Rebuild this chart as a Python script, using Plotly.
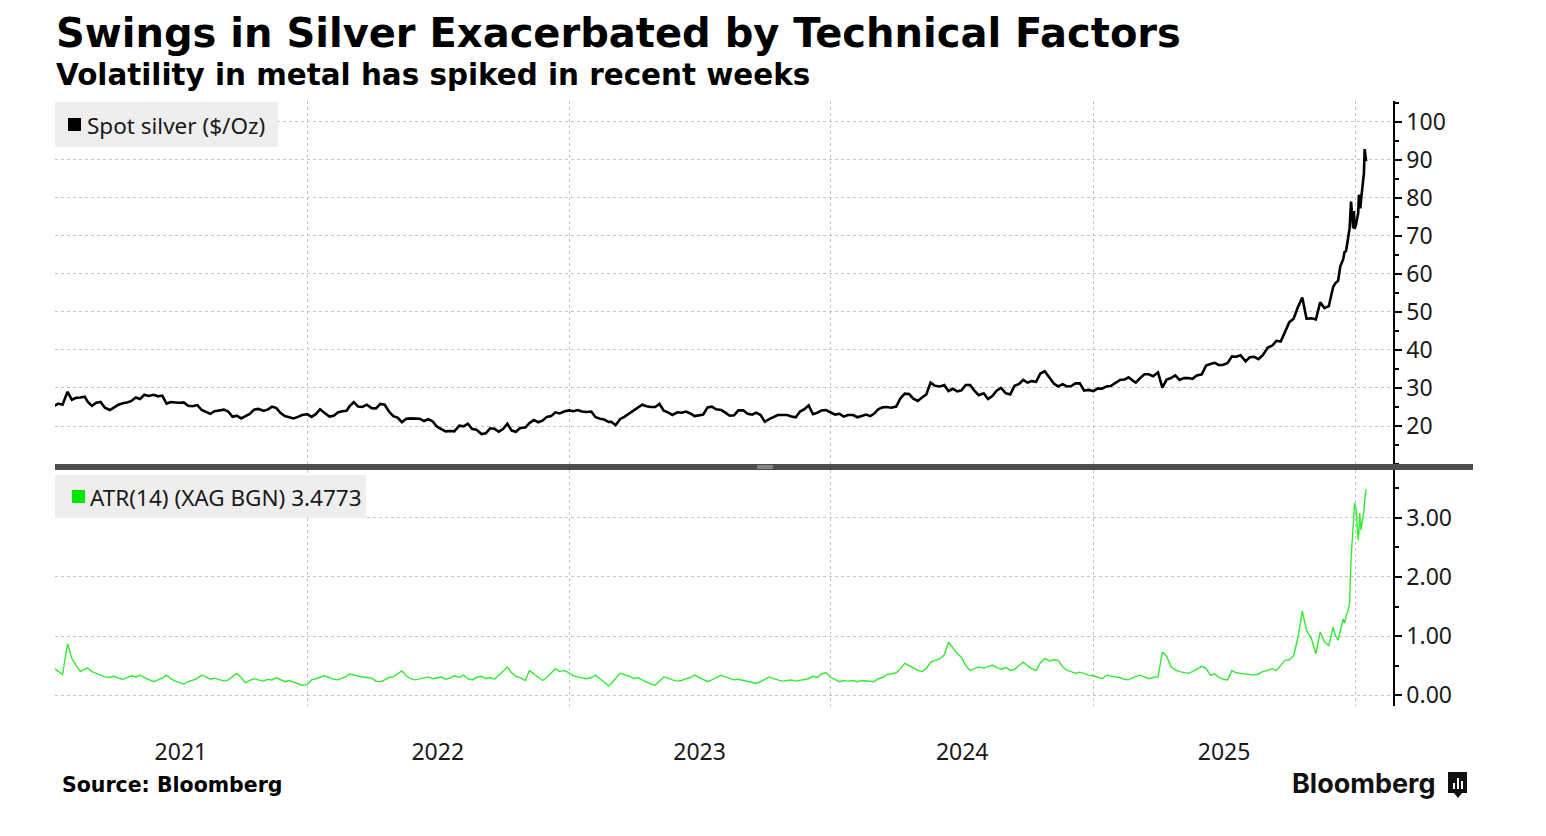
import pandas as pd
import plotly.graph_objects as go

# ---------------- data ----------------
# Sampling: days 1, 7, 13, 19, 25 of each month (Jan 2021 starts on the 13th),
# then denser sampling for Dec 2025 and Jan 2026.
MONTH_DAYS = [1, 7, 13, 19, 25]
DEC_2025_DAYS = [1, 4, 8, 11, 15, 17, 19, 22, 23, 24, 26, 29, 30, 31]
JAN_2026_DAYS = [2, 5, 6, 7, 8, 9, 12, 13, 14, 15, 16]

silver_2021 = [
    25.2, 25.9, 25.6,
    29.0, 26.9, 27.4, 27.5, 27.7,
    26.4, 25.3, 26.1, 26.3, 24.8,
    24.2, 24.9, 25.6, 26.0, 26.2,
    26.6, 27.5, 27.1, 28.2, 27.9,
    28.2, 27.8, 28.0, 25.9, 26.3,
    26.2, 26.1, 26.2, 25.3, 25.2,
    25.5, 24.2, 23.6, 23.2, 23.9,
    24.2, 24.3, 23.8, 22.4, 22.7,
    22.0, 22.6, 23.2, 24.3, 24.5,
    24.0, 24.3, 25.1, 24.7, 23.4,
    22.6, 22.3, 22.0, 22.4, 22.9,
]
silver_2022 = [
    23.1, 22.4, 23.1, 24.4, 23.5,
    22.5, 22.7, 23.6, 23.9, 24.0,
    25.2, 26.3, 25.1, 25.0, 25.6,
    24.7, 24.6, 25.8, 25.6, 23.8,
    22.6, 22.2, 21.0, 21.9, 22.0,
    22.0, 21.9, 21.3, 21.8, 21.2,
    19.8, 19.2, 18.6, 18.7, 18.6,
    20.1, 19.9, 20.6, 19.2, 19.0,
    17.9, 18.1, 19.4, 19.3, 18.5,
    19.2, 20.6, 18.8, 18.5, 19.5,
    19.6, 20.8, 21.6, 21.0, 21.4,
    22.4, 22.6, 23.6, 23.3, 23.8,
]
silver_2023 = [
    24.1, 23.9, 24.2, 23.8, 23.7,
    23.8, 22.3, 21.9, 21.7, 21.1,
    21.1, 20.2, 21.8, 22.4, 23.2,
    24.0, 25.0, 25.6, 25.2, 25.0,
    25.0, 25.8, 24.0, 23.6, 22.9,
    23.6, 23.5, 23.8, 23.3, 22.6,
    22.8, 23.0, 24.9, 25.1, 24.4,
    24.2, 23.5, 22.7, 22.8, 24.1,
    24.1, 23.2, 23.0, 23.5, 22.9,
    21.1, 21.8, 22.4, 22.9, 22.9,
    22.9, 22.5, 22.3, 23.8, 24.4,
    25.4, 23.1, 23.5, 24.1, 24.2,
]
silver_2024 = [
    23.6, 23.0, 23.2, 22.5, 22.9,
    22.9, 22.3, 22.6, 23.0, 22.6,
    23.2, 24.4, 24.9, 25.0, 24.8,
    25.1, 27.3, 28.5, 28.4, 27.2,
    26.6, 27.5, 28.3, 31.4, 30.6,
    30.4, 30.8, 29.2, 29.8, 29.1,
    29.4, 30.8, 30.8, 29.3, 28.1,
    28.6, 27.1, 27.9, 29.3, 30.0,
    28.6, 28.3, 30.6, 31.0, 32.1,
    31.4, 31.8, 31.6, 33.8, 34.4,
    32.5, 31.1, 30.4, 31.0, 30.4,
    30.5, 31.2, 31.2, 29.3, 29.5,
]
silver_2025 = [
    29.2, 29.9, 29.8, 30.4, 30.5,
    31.3, 32.1, 32.2, 32.8, 31.9,
    31.4, 32.6, 33.6, 33.6, 33.1,
    34.1, 30.1, 32.2, 32.6, 33.3,
    32.1, 32.6, 32.6, 32.4, 33.3,
    33.6, 35.9, 36.3, 36.6, 36.0,
    36.1, 36.6, 38.3, 38.2, 38.6,
    37.0, 38.1, 38.2, 37.6, 38.6,
    40.6, 41.1, 42.4, 42.2, 44.6,
    47.3, 48.2, 51.3, 53.8, 48.2,
    48.3, 48.0, 52.5, 51.0, 51.5,
]
silver_dec_2025 = [56.5, 57.5, 58.2, 62.0, 63.8, 65.8, 66.0, 69.5, 71.5, 72.0, 79.0, 72.0, 76.5, 71.8]
silver_jan_2026 = [73.0, 76.0, 80.8, 78.5, 77.2, 79.5, 85.0, 86.5, 92.8, 91.5, 89.6]

atr_2021 = [
    0.46, 0.40, 0.35,
    0.87, 0.62, 0.50, 0.40, 0.44,
    0.46, 0.40, 0.37, 0.33, 0.31,
    0.30, 0.32, 0.29, 0.27, 0.30,
    0.33, 0.31, 0.34, 0.30, 0.27,
    0.23, 0.26, 0.29, 0.34, 0.28,
    0.24, 0.22, 0.19, 0.23, 0.25,
    0.29, 0.34, 0.31, 0.27, 0.29,
    0.27, 0.24, 0.26, 0.31, 0.37,
    0.30, 0.21, 0.25, 0.28, 0.26,
    0.24, 0.27, 0.26, 0.30, 0.27,
    0.23, 0.25, 0.22, 0.19, 0.17,
]
atr_2022 = [
    0.18, 0.26, 0.28, 0.31, 0.33,
    0.30, 0.27, 0.26, 0.29, 0.32,
    0.36, 0.34, 0.33, 0.31, 0.30,
    0.29, 0.24, 0.23, 0.26, 0.30,
    0.31, 0.36, 0.41, 0.33, 0.28,
    0.26, 0.28, 0.30, 0.31, 0.28,
    0.29, 0.31, 0.27, 0.29, 0.33,
    0.30, 0.34, 0.28, 0.26, 0.30,
    0.32, 0.28, 0.30, 0.27, 0.34,
    0.40, 0.48, 0.38, 0.32, 0.30,
    0.25, 0.42, 0.36, 0.30, 0.25,
    0.30, 0.38, 0.45, 0.40, 0.42,
]
atr_2023 = [
    0.38, 0.33, 0.31, 0.30, 0.28,
    0.30, 0.34, 0.28, 0.22, 0.16,
    0.20, 0.28, 0.37, 0.35, 0.33,
    0.28, 0.30, 0.26, 0.22, 0.19,
    0.17, 0.24, 0.31, 0.29, 0.26,
    0.24, 0.25, 0.28, 0.30, 0.34,
    0.30, 0.26, 0.23, 0.26, 0.30,
    0.34, 0.31, 0.28, 0.26, 0.27,
    0.25, 0.24, 0.22, 0.20, 0.23,
    0.27, 0.31, 0.28, 0.26, 0.24,
    0.25, 0.26, 0.24, 0.25, 0.27,
    0.28, 0.32, 0.30, 0.36, 0.38,
]
atr_2024 = [
    0.30, 0.26, 0.23, 0.25, 0.24,
    0.25, 0.23, 0.25, 0.24, 0.23,
    0.23, 0.28, 0.30, 0.35, 0.37,
    0.38, 0.45, 0.54, 0.50, 0.46,
    0.42, 0.40, 0.45, 0.56, 0.59,
    0.62, 0.68, 0.90, 0.80, 0.71,
    0.64, 0.50, 0.42, 0.45, 0.48,
    0.46, 0.48, 0.51, 0.47, 0.44,
    0.47, 0.42, 0.44, 0.50, 0.56,
    0.50, 0.45, 0.42, 0.55, 0.62,
    0.58, 0.60, 0.59, 0.48, 0.42,
    0.40, 0.37, 0.39, 0.36, 0.34,
]
atr_2025 = [
    0.33, 0.30, 0.28, 0.34, 0.32,
    0.31, 0.30, 0.27, 0.26, 0.30,
    0.32, 0.34, 0.31, 0.28, 0.30,
    0.31, 0.73, 0.66, 0.48, 0.43,
    0.40, 0.39, 0.37, 0.40, 0.44,
    0.49, 0.45, 0.34, 0.36, 0.30,
    0.27, 0.26, 0.42, 0.38, 0.37,
    0.36, 0.35, 0.34, 0.36, 0.40,
    0.42, 0.45, 0.42, 0.50, 0.59,
    0.60, 0.67, 0.98, 1.42, 1.10,
    0.95, 0.70, 1.07, 0.90, 0.84,
]
atr_dec_2025 = [1.15, 1.02, 0.93, 1.10, 1.29, 1.22, 1.33, 1.43, 1.50, 1.56, 2.29, 3.00, 3.10, 3.25]
atr_jan_2026 = [3.15, 2.62, 2.75, 3.08, 2.95, 2.79, 3.05, 3.10, 3.30, 3.40, 3.4773]

year_labels = ["2021", "2022", "2023", "2024", "2025"]
year_label_dates = ["2021-07-09", "2022-07-02", "2023-07-02", "2024-07-02", "2025-07-02"]
year_grid_dates = ["2022-01-01", "2023-01-01", "2024-01-01", "2025-01-01", "2026-01-01"]
silver_ticks = [20, 30, 40, 50, 60, 70, 80, 90, 100]
atr_ticks = [0, 1, 2, 3]
atr_tick_text = ["0.00", "1.00", "2.00", "3.00"]


# ---------------- build dates ----------------
def build_dates():
    out = []
    for y in range(2021, 2026):
        for m in range(1, 13):
            if y == 2025 and m == 12:
                break
            for d in MONTH_DAYS:
                if y == 2021 and m == 1 and d < 13:
                    continue
                out.append(pd.Timestamp(y, m, d))
    out += [pd.Timestamp(2025, 12, d) for d in DEC_2025_DAYS]
    out += [pd.Timestamp(2026, 1, d) for d in JAN_2026_DAYS]
    return out


dates = build_dates()
silver = silver_2021 + silver_2022 + silver_2023 + silver_2024 + silver_2025 + silver_dec_2025 + silver_jan_2026
atr = atr_2021 + atr_2022 + atr_2023 + atr_2024 + atr_2025 + atr_dec_2025 + atr_jan_2026
n = min(len(dates), len(silver), len(atr))

# ---------------- geometry helpers ----------------
# The page body has an 8px margin, so the figure is shrunk by that offset.
OFF = 8
W, H = 1546 - OFF, 836 - OFF
L, R, T, B = 55 - OFF, 153, 101 - OFF, 130
PW = W - L - R   # 1338
PH = H - T - B   # 605


def fx(px):
    """reference-screen x pixel -> paper fraction"""
    return (px - 55) / PW


def fy(py):
    """reference-screen y pixel -> paper fraction"""
    return (706 - py) / PH


GRID = "#c4c4c4"
TICKFONT = dict(family="Noto Sans, Open Sans, sans-serif", size=23, color="#1a1a1a")

fig = go.Figure()
fig.add_trace(go.Scatter(x=dates[:n], y=silver[:n], mode="lines",
                         line=dict(color="#000000", width=2.6), xaxis="x", yaxis="y",
                         showlegend=False, hoverinfo="skip"))
fig.add_trace(go.Scatter(x=dates[:n], y=atr[:n], mode="lines",
                         line=dict(color="#33ea33", width=1.4), xaxis="x2", yaxis="y2",
                         showlegend=False, hoverinfo="skip"))

xrange = ["2021-01-14 12:00", "2026-02-22 12:00"]
minor_x = dict(tickmode="array", tickvals=year_grid_dates, showgrid=True,
               gridcolor=GRID, griddash="dot", gridwidth=1, ticks="")

yaxis_common = dict(side="right", showline=True, linecolor="#000", linewidth=1.5,
                    ticks="outside", ticklen=7, tickwidth=1.5, tickcolor="#000",
                    tickfont=TICKFONT, showgrid=True, gridcolor=GRID,
                    griddash="3px,3px", gridwidth=1, zeroline=False, fixedrange=True)

fig.update_layout(
    width=W, height=H,
    margin=dict(l=L, r=R, t=T, b=B, autoexpand=False),
    paper_bgcolor="white", plot_bgcolor="white",
    xaxis=dict(domain=[0, 1], anchor="y", range=xrange, type="date",
               showticklabels=False, showgrid=False, zeroline=False, showline=False,
               ticks="", minor=minor_x),
    xaxis2=dict(domain=[0, 1], anchor="y2", range=xrange, type="date", matches="x",
                tickmode="array", tickvals=year_label_dates, ticktext=year_labels,
                tickfont=TICKFONT, showgrid=False, zeroline=False, showline=False,
                ticks="", ticklabelstandoff=30, minor=minor_x),
    yaxis=dict(domain=[fy(465), 1], anchor="x", range=[9.75, 105.44],
               tickmode="array", tickvals=silver_ticks,
               minor=dict(tickmode="linear", tick0=0, dtick=5, ticks="outside",
                          ticklen=4, tickcolor="#000", showgrid=False),
               **yaxis_common),
    yaxis2=dict(domain=[0, fy(470)], anchor="x2", range=[-0.181, 3.806],
                tickmode="array", tickvals=atr_ticks, ticktext=atr_tick_text,
                minor=dict(tickmode="linear", tick0=0, dtick=0.5, ticks="outside",
                           ticklen=4, tickcolor="#000", showgrid=False),
                **yaxis_common),
)


def prect(x0, x1, y0, y1, color):
    fig.add_shape(type="rect", xref="paper", yref="paper", layer="above",
                  x0=fx(x0), x1=fx(x1), y0=fy(y1), y1=fy(y0),
                  fillcolor=color, line=dict(width=0))


# separator bar between the panels
fig.add_shape(type="line", xref="paper", yref="paper", x0=0, x1=fx(1473),
              y0=fy(467), y1=fy(467), line=dict(color="#4d4d4d", width=6))
for yy in (466, 468):
    fig.add_shape(type="line", xref="paper", yref="paper", x0=fx(757), x1=fx(773),
                  y0=fy(yy), y1=fy(yy), line=dict(color="#bdbdbd", width=1))

# titles
fig.add_annotation(text="<b>Swings in Silver Exacerbated by Technical Factors</b>",
                   xref="paper", yref="paper", x=fx(54), y=fy(33), xanchor="left",
                   yanchor="middle", showarrow=False,
                   font=dict(family="DejaVu Sans", size=40, color="#000"))
fig.add_annotation(text="<b>Volatility in metal has spiked in recent weeks</b>",
                   xref="paper", yref="paper", x=fx(54), y=fy(75), xanchor="left",
                   yanchor="middle", showarrow=False,
                   font=dict(family="DejaVu Sans", size=29.4, color="#000"))

# legend boxes (background, colour square, label)
LEGFONT = dict(family="Noto Sans, sans-serif", size=22.5, color="#1a1a1a")
prect(55, 278, 102, 147, "#eeeeee")
prect(68, 81, 118, 131, "#000000")
fig.add_annotation(text="Spot silver ($/Oz)", xref="paper", yref="paper",
                   x=fx(85), y=fy(125), xanchor="left", yanchor="middle",
                   showarrow=False, font=LEGFONT)
prect(55, 366, 475, 518, "#eeeeee")
prect(72, 85, 490, 503, "#00e600")
fig.add_annotation(text="ATR(14) (XAG BGN) 3.4773", xref="paper", yref="paper",
                   x=fx(88), y=fy(497), xanchor="left", yanchor="middle",
                   showarrow=False, font=LEGFONT)

# footer
fig.add_annotation(text="<b>Source: Bloomberg</b>", xref="paper", yref="paper",
                   x=fx(60), y=fy(785), xanchor="left", yanchor="middle", showarrow=False,
                   font=dict(family="DejaVu Sans", size=20.5, color="#000"))
fig.add_annotation(text="<b>Bloomberg</b>", xref="paper", yref="paper",
                   x=fx(1437), y=fy(783), xanchor="right", yanchor="middle", showarrow=False,
                   font=dict(family="Inter, Roboto, sans-serif", size=27, color="#111"))
# Bloomberg icon
fig.add_shape(type="rect", xref="paper", yref="paper", x0=fx(1448), x1=fx(1467),
              y0=fy(793), y1=fy(772), fillcolor="#111", line=dict(width=0))
fig.add_shape(type="path", xref="paper", yref="paper",
              path=f"M {fx(1454)},{fy(793)} L {fx(1458)},{fy(798)} L {fx(1462)},{fy(793)} Z",
              fillcolor="#111", line=dict(width=0))
for bx, top in ((1453, 783), (1457, 778), (1461, 781)):
    fig.add_shape(type="rect", xref="paper", yref="paper", x0=fx(bx), x1=fx(bx + 2),
                  y0=fy(789), y1=fy(top), fillcolor="white", line=dict(width=0))

fig.write_html("out.html")
